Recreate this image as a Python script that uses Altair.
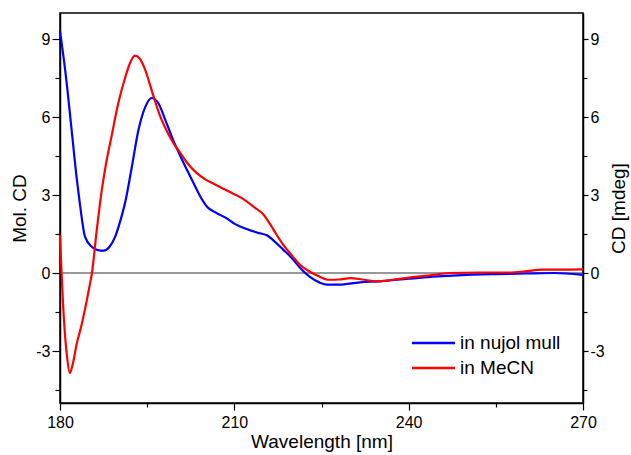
import altair as alt
import pandas as pd

# --- data ---
wl_nujol = [180, 181, 182, 182.9, 183.4, 184.3, 185.5, 186.5, 187.5, 188.5, 189.5, 190.5,
            191.2, 192.3, 193.5, 194.7, 195.8, 197, 198.1, 199.5, 200.7, 202, 203, 204,
            205.3, 207, 208.7, 210, 212, 214, 215.6, 217, 218.4, 220, 221.3, 223, 224.7,
            226, 228, 231.6, 235, 240, 245, 250, 255, 260, 265, 270]
cd_nujol = [9.3, 7.6, 5.5, 3.6, 2.7, 1.4, 1.0, 0.88, 0.86, 1.0, 1.4, 2.1,
            2.7, 4.0, 5.5, 6.4, 6.73, 6.5, 5.9, 5.1, 4.5, 3.9, 3.45, 3.0,
            2.55, 2.3, 2.1, 1.9, 1.7, 1.55, 1.45, 1.2, 0.9, 0.55, 0.2, -0.15, -0.37,
            -0.45, -0.45, -0.36, -0.32, -0.22, -0.13, -0.07, -0.04, -0.02, 0.0, -0.07]

wl_mecn = [180, 180.6, 181.2, 181.7, 182.2, 182.9, 183.6, 184.3, 185, 185.5, 186.3, 187.2,
           188, 189, 189.8, 190.5, 191.2, 192, 192.9, 193.7, 194.6, 195.4, 196.3, 197.2,
           198.4, 199.5, 200.7, 202, 203.5, 205, 206.3, 208, 209.8, 211.5, 213.3, 215,
           216.1, 217.2, 218.4, 220, 221.3, 223, 224.7, 226, 228, 230, 232, 234.5, 237,
           240, 244, 247, 252, 257.4, 260, 263, 266, 270]
cd_mecn = [1.45, -1.5, -3.2, -3.85, -3.5, -2.7, -2.1, -1.4, -0.6, 0.0, 1.6, 3.2,
           4.3, 5.4, 6.3, 6.95, 7.5, 8.05, 8.36, 8.25, 7.85, 7.3, 6.65, 6.05,
           5.45, 5.0, 4.62, 4.2, 3.85, 3.6, 3.45, 3.25, 3.05, 2.85, 2.55, 2.25,
           1.9, 1.5, 1.09, 0.65, 0.32, 0.05, -0.14, -0.26, -0.25, -0.2, -0.25, -0.32, -0.27,
           -0.18, -0.08, 0.0, 0.02, 0.02, 0.06, 0.13, 0.13, 0.14]

series_names = ["in nujol mull", "in MeCN"]
series_colors = ["#0000ff", "#ff0000"]

x_ticks = [180, 195, 210, 225, 240, 255, 270]
y_ticks = [-4.5, -3, -1.5, 0, 1.5, 3, 4.5, 6, 7.5, 9]
zero_level = [0]

df = pd.concat([
    pd.DataFrame({"wl": wl_nujol, "cd": cd_nujol, "series": series_names[0]}),
    pd.DataFrame({"wl": wl_mecn, "cd": cd_mecn, "series": series_names[1]}),
])
zero_df = pd.DataFrame({"v": zero_level})
legend_df = pd.DataFrame({"series": series_names, "rank": list(range(len(series_names)))})

FONT = "Liberation Sans"
LBL = 16
TTL = 19
ydom = alt.Scale(domain=[-5, 10], nice=False, zero=False)
cscale = alt.Scale(domain=series_names, range=series_colors)

major_x = "datum.value % 30 === 0"
major_y = "datum.value % 3 === 0"

common = dict(grid=False, domainColor="black", tickColor="black",
              labelFont=FONT, labelFontSize=LBL, labelColor="black",
              titleFont=FONT, titleFontSize=TTL, titleFontWeight="normal", titleColor="black")

zero = alt.Chart(zero_df).mark_rule(color="#333333", strokeWidth=1.2).encode(
    y=alt.Y("v:Q", scale=ydom,
            axis=alt.Axis(orient="right", title="CD [mdeg]", values=y_ticks,
                          labelExpr=f"{major_y} ? '' + datum.value : ''",
                          tickSize={"condition": {"test": major_y, "value": 5}, "value": 4},
                          labelPadding=2, titlePadding=5, titleAngle=270, titleBaseline="top",
                          **common))
)

lines = alt.Chart(df).mark_line(strokeWidth=2.2, interpolate="monotone").encode(
    x=alt.X("wl:Q", scale=alt.Scale(domain=[180, 270], nice=False, zero=False),
            axis=alt.Axis(title="Wavelength [nm]", values=x_ticks,
                          labelExpr=f"{major_x} ? datum.label : ''",
                          tickSize={"condition": {"test": major_x, "value": 7}, "value": 4},
                          labelPadding=4, titlePadding=2, labelFlush=False,
                          **common)),
    y=alt.Y("cd:Q", scale=ydom,
            axis=alt.Axis(orient="left", title="Mol. CD", values=y_ticks,
                          labelExpr=f"{major_y} ? '' + datum.value : ''",
                          tickSize={"condition": {"test": major_y, "value": 8}, "value": 5},
                          labelPadding=2, titlePadding=6,
                          **common)),
    color=alt.Color("series:N", scale=cscale, legend=None),
    order=alt.Order("wl:Q"),
)

# in-plot legend (inside lower right), rows 25 px apart
leg_base = alt.Chart(legend_df).transform_calculate(ypos="330 + 25 * datum.rank")
leg_lines = leg_base.mark_rule(strokeWidth=2.5).encode(
    x=alt.value(352), x2=alt.value(395),
    y=alt.Y("ypos:Q", scale=None, axis=None),
    color=alt.Color("series:N", scale=cscale, legend=None),
)
leg_text = leg_base.mark_text(align="left", baseline="middle", font=FONT, fontSize=19,
                              color="black").encode(
    x=alt.value(400),
    y=alt.Y("ypos:Q", scale=None, axis=None),
    text="series:N",
)

chart = alt.layer(zero, lines, leg_lines, leg_text).resolve_scale(y="independent").properties(
    width=523, height=390,
    padding={"left": 60, "top": 13, "right": 48, "bottom": 52},
    autosize="none",
    background="white",
).configure_view(stroke="black", strokeWidth=1.5).configure_axis(
    domainWidth=1.5, tickWidth=1.2,
)

chart.save("out.html", embed_options={"renderer": "svg", "actions": False})
